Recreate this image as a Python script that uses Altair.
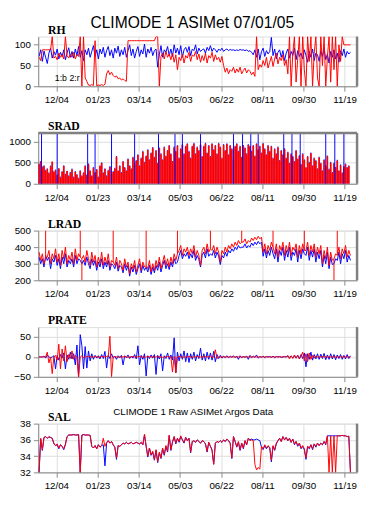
import altair as alt
import pandas as pd

title_main = "CLIMODE 1 ASIMet 07/01/05"
subtitle = "CLIMODE 1 Raw ASIMet Argos Data"
tick_days = [0, 50, 100, 150, 200, 250, 300, 350]
tick_labels = ["12/04", "01/23", "03/14", "05/03", "06/22", "08/11", "09/30", "11/19"]

# sample days (2-day steps, day 0 = 12/04)
days = list(range(-21, 358, 2))

rh_blue = [72, 88, 60, 85, 70, 55, 80, 92, 68, 84,
           75, 90, 66, 82, 72, 88, 64, 80, 93, 70,
           84, 68, 90, 74, 96, 70, 86, 62, 88, 76,
           92, 70, 84, 98, 72, 88, 66, 90, 78, 94,
           70, 86, 96, 74, 88, 68, 92, 80, 97, 72,
           88, 76, 94, 70, 86, 100, 74, 90, 68, 84,
           96, 72, 88, 78, 102, 70, 90, 80, 94, 74,
           86, 90, 46, 76, 98, 70, 88, 82, 96, 74,
           90, 72, 100, 80, 92, 76, 98, 70, 88, 94,
           82, 96, 74, 90, 86, 100, 78, 92, 84, 88,
           90, 80, 94, 86, 98, 84, 92, 88, 82, 90,
           86, 92, 84, 88, 90, 86, 89, 87, 88, 86,
           88, 86, 89, 87, 88, 86, 88, 84, 86, 82,
           76, 88, 70, 90, 64, 84, 92, 72, 86, 78,
           84, 118, 74, 90, 66, 82, 88, 70, 86, 62,
           80, 90, 68, 84, 74, 92, 64, 86, 72, 80,
           66, 88, 74, 58, 84, 70, 90, 62, 80, 76,
           60, 86, 72, 92, 64, 78, 56, 84, 70, 88,
           66, 80, 58, 86, 74, 90, 70, 84, 78, 82]

rh_red = [70, 62, 88, 88, 88, 88, 88, 88, 120, 68,
          72, 64, 80, 70, 76, 66, 120, 74, 68, 78,
          70, 82, 66, 76, 72, 120, 0, 120, 20, 12,
          3, 2, 4, 2, 110, 1, 3, 2, 4, 2,
          5, 30, 38, 28, 34, 26, 22, 25, 18, 20,
          15, 18, 14, 12, 110, 110, 110, 110, 110, 110,
          110, 110, 110, 110, 110, 110, 110, 110, 110, 110,
          110, 120, 120, 0, 72, 80, 66, 84, 70, 78,
          64, 80, 58, 76, 40, 70, 62, 78, 56, 74,
          68, 82, 60, 76, 72, 84, 64, 78, 58, 74,
          62, 80, 56, 74, 68, 82, 60, 76, 64, 70,
          58, 72, 50, 34, 44, 30, 40, 36, 46, 32,
          42, 34, 46, 30, 38, 44, 32, 40, 36, 28,
          34, 24, 120, 40, 52, 46, 62, 50, 70, 44,
          58, 72, 48, 66, 80, 54, 70, 62, 76, 50,
          64, 30, 120, 0, 80, 120, 10, 66, 120, 0,
          120, 40, 0, 120, 60, 120, 0, 80, 120, 20,
          0, 120, 50, 120, 0, 70, 120, 10, 120, 40,
          120, 0, 100, 60, 120, 100, 100, 100, 100, 100]

srad_red = [460, 540, 380, 420, 300, 350, 250, 410, 530, 280,
            320, 200, 360, 150, 280, 420, 220, 300, 180, 260,
            340, 150, 280, 210, 120, 300, 180, 250, 420, 200,
            460, 300, 180, 380, 260, 330, 150, 420, 490, 250,
            350, 180, 310, 400, 230, 280, 360, 640, 300, 420,
            260, 520, 380, 300, 580, 420, 350, 620, 470, 540,
            680, 420, 600, 760, 500, 650, 800, 560, 720, 850,
            620, 780, 480, 840, 700, 560, 860, 650, 780, 900,
            700, 520, 860, 760, 900, 600, 820, 920, 700, 880,
            940, 760, 600, 880, 950, 700, 860, 780, 920, 640,
            880, 950, 720, 900, 640, 940, 800, 900, 700, 950,
            860, 600, 920, 780, 940, 680, 900, 820, 560, 880,
            940, 760, 880, 620, 900, 840, 700, 920, 880, 760,
            900, 650, 940, 800, 880, 720, 950, 820, 680, 900,
            760, 880, 600, 820, 700, 860, 540, 780, 680, 820,
            600, 740, 480, 700, 640, 520, 780, 580, 660, 450,
            700, 560, 380, 640, 500, 720, 420, 600, 540, 350,
            620, 480, 300, 560, 420, 650, 340, 500, 260, 480,
            380, 550, 300, 440, 250, 400, 460, 380, 420, 0]

srad_blue = [480, 520, 410, 440, 330, 370, 270, 430, 510, 300,
             340, 220, 370, 170, 300, 440, 240, 310, 200, 280,
             360, 170, 300, 230, 140, 320, 200, 270, 440, 220,
             480, 320, 200, 400, 280, 350, 170, 440, 510, 270,
             370, 200, 330, 420, 250, 300, 380, 660, 320, 440,
             280, 540, 400, 320, 600, 440, 370, 640, 490, 560,
             700, 440, 620, 780, 520, 670, 820, 580, 740, 870,
             640, 800, 500, 860, 720, 580, 880, 670, 800, 920,
             720, 540, 880, 780, 920, 620, 840, 940, 720, 900,
             960, 780, 620, 900, 970, 720, 880, 800, 940, 660,
             900, 970, 740, 920, 660, 960, 820, 920, 720, 970,
             880, 620, 940, 800, 960, 700, 920, 840, 580, 900,
             960, 780, 900, 640, 920, 860, 720, 940, 900, 780,
             920, 670, 960, 820, 900, 740, 970, 840, 700, 920,
             780, 900, 620, 840, 720, 880, 560, 800, 700, 840,
             620, 760, 500, 720, 660, 540, 800, 600, 680, 470,
             720, 580, 400, 660, 520, 740, 440, 620, 560, 370,
             640, 500, 320, 580, 440, 670, 360, 520, 280, 500,
             400, 570, 320, 460, 270, 420, 480, 400, 440, 0]

srad_spike_days = [-18, 1, 38, 47, 67, 95, 124, 144, 153, 175,
                   215, 226, 236, 245, 276, 286, 296, 327, 338, 349]
srad_spike_vals = [1200] * len(srad_spike_days)

lrad_red = [370, 320, 360, 300, 330, 340, 380, 300, 360, 330,
            390, 310, 360, 290, 380, 330, 400, 300, 350, 320,
            370, 300, 390, 320, 360, 340, 330, 350, 310, 380,
            330, 290, 370, 310, 350, 280, 340, 300, 370, 290,
            340, 300, 360, 280, 320, 310, 290, 340, 270, 320,
            300, 260, 330, 280, 310, 240, 300, 270, 320, 250,
            290, 330, 260, 310, 280, 290, 270, 320, 250, 300,
            260, 320, 280, 340, 270, 310, 350, 290, 330, 280,
            340, 300, 360, 320, 360, 380, 410, 350, 390, 370,
            400, 350, 390, 360, 410, 340, 380, 350, 290, 380,
            400, 360, 420, 370, 390, 380, 410, 360, 400, 370,
            310, 380, 360, 400, 370, 410, 390, 420, 400, 430,
            410, 440, 420, 430, 430, 450, 420, 440, 430, 455,
            440, 460, 445, 465, 450, 460, 370, 420, 360, 410,
            380, 430, 400, 360, 420, 340, 410, 380, 430, 350,
            410, 370, 430, 350, 400, 380, 420, 340, 410, 360,
            420, 380, 380, 430, 350, 410, 370, 420, 340, 400,
            360, 410, 300, 380, 330, 400, 290, 370, 320, 330,
            360, 350, 400, 330, 390, 360, 410, 340, 380, 350]

lrad_blue = [340, 300, 330, 280, 350, 320, 340, 270, 330, 310,
             350, 290, 330, 270, 340, 300, 360, 280, 320, 300,
             330, 280, 350, 300, 330, 320, 300, 320, 290, 340,
             300, 270, 330, 290, 320, 260, 310, 280, 330, 270,
             310, 280, 320, 260, 300, 290, 270, 310, 255, 290,
             280, 245, 300, 260, 290, 225, 280, 250, 290, 235,
             270, 300, 245, 290, 260, 280, 250, 290, 235, 280,
             245, 290, 260, 310, 250, 290, 320, 270, 300, 265,
             310, 280, 330, 300, 310, 350, 380, 330, 360, 345,
             370, 330, 360, 335, 380, 320, 350, 325, 280, 350,
             370, 335, 390, 345, 360, 350, 380, 335, 370, 345,
             295, 350, 335, 370, 345, 380, 365, 390, 375, 400,
             385, 410, 395, 400, 400, 420, 395, 410, 400, 425,
             410, 430, 415, 435, 420, 430, 345, 390, 335, 380,
             350, 400, 360, 330, 390, 310, 380, 350, 400, 320,
             380, 340, 400, 320, 370, 350, 390, 310, 380, 330,
             390, 360, 350, 400, 320, 380, 340, 390, 310, 370,
             330, 380, 280, 350, 300, 370, 270, 340, 295, 300,
             330, 320, 370, 300, 360, 330, 380, 310, 350, 320]

# short red spikes in LRAD: day, low end, high end
lrad_spike_days = [-13, 29, 31, 69, 109, 147, 187, 225, 263, 301, 337, 341]
lrad_spike_lo = [330, 340, 200, 310, 290, 360, 390, 430, 400, 380, 200, 360]
lrad_spike_hi = [500, 500, 330, 500, 500, 500, 500, 500, 500, 500, 330, 500]

prate_blue = [0, 0, 0, 2, -3, 5, 0, -2, 0, 3,
              -30, 4, -8, 6, -3, 10, -30, 5, -6, 12,
              -5, 8, -20, 30, -50, 56, 28, -30, 26, -28,
              15, -10, 8, -6, 4, -3, 3, -5, 6, -4,
              14, -28, 5, -4, 8, -3, 2, -6, 3, -2,
              4, -20, 3, -2, 5, -4, 2, -3, 6, -5,
              28, -20, 4, -6, 8, -48, 3, -4, 5, -3,
              6, -44, 4, -5, 8, -35, 3, -4, 10, -6,
              5, -8, 48, -40, 12, -10, 8, -6, 15, -12,
              10, -14, 8, -6, 12, -10, 6, -4, 22, -8,
              8, -10, 12, -6, 10, -8, 14, -12, 6, -4,
              4, -3, 2, -2, 3, -2, 2, -1, 3, -2,
              2, -6, 3, -2, 1, -1, 2, -6, 4, -2,
              2, -1, 5, -3, 1, -1, 2, -2, 1, 0,
              1, -1, 2, -2, 1, 0, 1, -1, 0, 1,
              0, 1, -1, 2, -2, 3, -3, 4, -5, 6,
              -4, 10, -25, 8, -6, 12, -8, 6, -5, 8,
              -6, 7, -4, 9, -7, 5, -6, 8, -5, 6,
              -7, 5, -4, 6, -6, 4, -5, 6, -4, 3]

prate_red = [0, 0, 0, 0, 0, 12, -15, 0, -42, 0,
             4, -8, 32, -30, 20, -10, 28, -12, 6, -4,
             15, -6, 4, -2, -50, 0, 3, -2, 0, 1,
             0, 2, -1, 0, 1, 0, -1, 0, 2, 0,
             0, 1, 0, 52, -50, 0, 1, 0, -1, 0,
             0, 0, 1, 0, -1, 0, 0, 1, 0, 0,
             0, 1, 0, 0, -1, 0, 1, 0, 0, 0,
             0, 0, 1, 0, 0, -1, 0, 0, 1, 0,
             0, -38, 2, -40, 0, 1, 0, -1, 0, 0,
             0, 1, 0, -1, 0, 0, 1, 0, 0, 0,
             0, 1, 0, 0, 3, -2, 0, 18, -4, 0,
             0, 0, 0, 0, 0, 0, 0, 0, 0, 0,
             0, 0, 0, 0, 0, 0, 0, 0, 0, 0,
             0, 0, 0, 0, 0, 0, 0, 0, 0, 0,
             0, 0, 0, 0, 0, 0, 0, 0, 0, 0,
             0, 4, -5, 3, -4, 5, -3, 4, -5, 2,
             12, -10, 8, -12, 10, -6, 4, -3, 2, 0,
             0, 0, 1, 0, 0, 0, 0, 0, 0, 0,
             0, 0, 0, 0, 0, 0, 0, 0, 0, 0]

sal_red = [32, 36.2, 34.8, 36.3, 36.4, 36.2, 36.4, 36.3, 36.2, 35.6,
           35.3, 35.5, 35.0, 35.4, 35.2, 34.9, 35.5, 36.4, 36.6, 36.6,
           36.6, 36.65, 36.6, 36.6, 36.65, 32, 36.6, 36.65, 36.6, 36.6,
           36.6, 36.55, 35.2, 35.0, 35.3, 34.9, 35.4, 35.1, 35.3, 36.2,
           35.2, 35.7, 35.9, 35.6, 35.8, 35.4, 35.1, 33.8, 35.3, 35.2,
           35.4, 35.6, 35.5, 35.7, 35.5, 35.6, 35.7, 35.5, 35.6, 35.7,
           35.6, 35.5, 35.7, 35.4, 36.7, 35.2, 34.0, 35.0, 34.2, 34.6,
           33.6, 34.8, 33.3, 34.5, 33.8, 35.0, 34.2, 35.3, 34.6, 36.6,
           34.8, 35.8, 36.4, 35.6, 36.2, 35.8, 36.5, 36.0, 35.7, 36.3,
           35.9, 36.2, 34.5, 35.8, 35.9, 35.7, 36.0, 35.8, 35.6, 35.9,
           35.8, 35.5, 34.6, 35.7, 35.2, 34.8, 33.0, 35.6, 35.8, 35.7,
           35.9, 35.7, 36.0, 35.8, 36.1, 35.9, 35.6, 33.8, 36.4, 35.8,
           35.2, 35.8, 34.8, 35.6, 35.0, 35.9, 35.4, 36.2, 35.9, 36.0,
           35.9, 33.0, 32.3, 32.6, 32.4, 35.2, 34.9, 35.4, 35.0, 35.3,
           35.1, 33.5, 35.3, 34.8, 35.6, 35.9, 36.2, 35.8, 36.4, 36.0,
           36.3, 35.9, 36.2, 35.7, 36.1, 35.5, 35.8, 35.3, 35.6, 35.0,
           35.3, 34.9, 33.8, 35.2, 35.0, 35.4, 34.9, 35.5, 35.2, 35.6,
           35.3, 35.6, 35.4, 35.8, 35.5, 36.5, 32, 36.5, 32, 36.5,
           32, 36.5, 36.5, 36.5, 36.55, 36.5, 36.5, 36.4, 36.45, 32]

sal_blue = [32, 36.1, 34.7, 36.3, 36.4, 36.2, 36.35, 36.3, 36.2, 35.5,
            35.3, 35.4, 34.9, 35.4, 35.2, 34.8, 35.4, 36.4, 36.6, 36.6,
            36.6, 36.65, 36.6, 36.6, 36.65, 32, 36.6, 36.65, 36.6, 36.6,
            36.6, 36.55, 35.2, 35.0, 35.3, 34.9, 35.4, 35.1, 35.3, 35.4,
            32.8, 35.6, 35.9, 35.6, 35.8, 35.4, 35.1, 33.6, 35.3, 35.2,
            35.4, 35.6, 35.5, 35.7, 35.5, 35.6, 35.7, 35.5, 35.6, 35.7,
            35.6, 35.5, 35.7, 35.4, 36.6, 35.2, 33.9, 35.0, 34.1, 34.5,
            33.5, 34.7, 33.2, 34.4, 33.7, 34.9, 34.1, 35.2, 34.5, 36.5,
            34.7, 35.7, 36.4, 35.5, 36.2, 35.7, 36.4, 36.0, 35.6, 36.3,
            35.9, 36.2, 34.4, 35.8, 35.9, 35.7, 36.0, 35.8, 35.6, 35.9,
            35.8, 35.5, 34.5, 35.7, 35.2, 34.7, 33.0, 35.6, 35.8, 35.7,
            35.9, 35.7, 36.0, 35.8, 36.1, 35.9, 35.6, 33.7, 36.4, 35.8,
            35.1, 35.7, 34.7, 35.6, 34.9, 35.9, 35.4, 36.2, 36.0, 36.1,
            36.0, 36.0, 36.1, 36.0, 35.9, 35.1, 34.8, 35.3, 34.9, 35.2,
            35.0, 33.3, 35.2, 34.7, 35.5, 35.9, 36.2, 35.8, 36.4, 36.0,
            36.3, 35.9, 36.2, 35.7, 36.1, 35.4, 35.8, 35.2, 35.6, 34.9,
            35.2, 34.8, 33.6, 35.2, 34.9, 35.4, 34.8, 35.5, 35.1, 35.6,
            35.3, 35.6, 35.4, 35.8, 35.4, 36.5, 36.5, 36.5, 36.5, 36.5,
            36.5, 36.5, 36.5, 36.5, 36.55, 36.5, 36.5, 36.4, 36.45, 32]

for arr in [rh_blue, rh_red, srad_red, srad_blue, lrad_red, lrad_blue,
            prate_blue, prate_red, sal_red, sal_blue]:
    assert len(arr) == len(days), len(arr)

BLUE = "#0000ff"
RED = "#ff0000"
W = 327
XDOM = [-22, 365]
SANS = "Liberation Sans"
SERIF = "Liberation Serif"

label_expr = "[" + ",".join("'%s'" % t for t in tick_labels) + "][indexof(%s, datum.value)]" % (
    "[" + ",".join(str(d) for d in tick_days) + "]")

xenc = alt.X("day:Q", scale=alt.Scale(domain=XDOM, nice=False, zero=False),
             axis=alt.Axis(values=tick_days, labelExpr=label_expr, title=None,
                           grid=True, labelPadding=4))


def yenc(field, dom, ticks):
    return alt.Y(field + ":Q", scale=alt.Scale(domain=dom, nice=False, zero=False),
                 axis=alt.Axis(values=ticks, title=None, grid=True, labelPadding=3, format="d"))


def series_df(vals):
    return pd.DataFrame({"day": days, "v": vals})


def text_layer(txt, x, y, size, font, weight="normal", align="left", baseline="alphabetic"):
    return alt.Chart(pd.DataFrame({"t": [txt]})).mark_text(
        font=font, fontSize=size, fontWeight=weight, align=align, baseline=baseline,
        color="black").encode(x=alt.value(x), y=alt.value(y), text="t:N")


def frame_layers(h, top_gray=False):
    layers = [alt.Chart(pd.DataFrame({"a": [0]})).mark_rule(
        color="#808080", strokeWidth=2.5).encode(
        x=alt.value(W), y=alt.value(0), y2=alt.value(h))]
    if top_gray:
        layers.append(alt.Chart(pd.DataFrame({"a": [0]})).mark_rule(
            color="#808080", strokeWidth=2.5).encode(
            x=alt.value(0), x2=alt.value(W), y=alt.value(0)))
    return layers


def line_panel(name, blue, red, dom, ticks, h, extra=(), pre=()):
    yb = yenc("v", dom, ticks)
    lb = alt.Chart(series_df(blue)).mark_line(color=BLUE, strokeWidth=1, clip=True).encode(x=xenc, y=yb)
    lr = alt.Chart(series_df(red)).mark_line(color=RED, strokeWidth=1, clip=True).encode(x=xenc, y=yb)
    lab = text_layer(name, 10, -3, 12, SERIF, "bold")
    return alt.layer(lb, lr, *pre, lab, *extra, *frame_layers(h)).properties(width=W, height=h)


# RH
p_rh = line_panel("RH", rh_blue, rh_red, [0, 120], [0, 50, 100], 51, extra=(
    text_layer("1:b  2:r", 17, 43, 9, SANS, baseline="middle"),
    text_layer(title_main, 158, -9, 16, SANS, align="center"),
))

# SRAD
ys = yenc("v", [0, 1200], [0, 500, 1000])
srad_b = alt.Chart(series_df(srad_blue)).mark_rule(color=BLUE, strokeWidth=1.2, opacity=0.8, clip=True).encode(
    x=xenc, y=ys, y2=alt.datum(0))
srad_r = alt.Chart(series_df(srad_red)).mark_rule(color=RED, strokeWidth=1.7, clip=True).encode(
    x=xenc, y=ys, y2=alt.datum(0))
srad_sp = alt.Chart(pd.DataFrame({"day": srad_spike_days, "v": srad_spike_vals})).mark_rule(
    color=BLUE, strokeWidth=1, clip=True).encode(x=xenc, y=ys, y2=alt.datum(0))
p_srad = alt.layer(srad_b, srad_r, srad_sp, text_layer("SRAD", 10, -3, 12, SERIF, "bold"),
                   *frame_layers(52, top_gray=True)).properties(width=W, height=52)

# LRAD
yl = yenc("v", [200, 500], [200, 300, 400, 500])
lrad_sp = alt.Chart(pd.DataFrame({"day": lrad_spike_days, "v": lrad_spike_lo, "v2": lrad_spike_hi})).mark_rule(
    color=RED, strokeWidth=1, clip=True).encode(x=xenc, y=yl, y2="v2:Q")
p_lrad = line_panel("LRAD", lrad_blue, lrad_red, [200, 500], [200, 300, 400, 500], 51, pre=(lrad_sp,))

# PRATE
p_prate = line_panel("PRATE", prate_blue, prate_red, [-50, 75], [-50, 0, 50], 51)

# SAL
p_sal = line_panel("SAL", sal_blue, sal_red, [32, 38], [32, 34, 36, 38], 50, extra=(
    text_layer(subtitle, 159, -12, 10, SANS, align="center", baseline="middle"),
))

chart = alt.vconcat(p_rh, p_srad, p_lrad, p_prate, p_sal, spacing=48, bounds="flush").properties(
    padding={"left": 0, "top": 0, "right": 0, "bottom": 0}
).configure_view(stroke="black", strokeWidth=1).configure_axis(
    labelFont=SANS, labelFontSize=10, labelColor="black", domain=False, ticks=False,
    gridColor="#7f7f7f", gridDash=[1, 3], gridWidth=1, gridOpacity=0.9
).configure(background="white")

chart.save("out.html", embed_options={"renderer": "svg", "actions": False})
